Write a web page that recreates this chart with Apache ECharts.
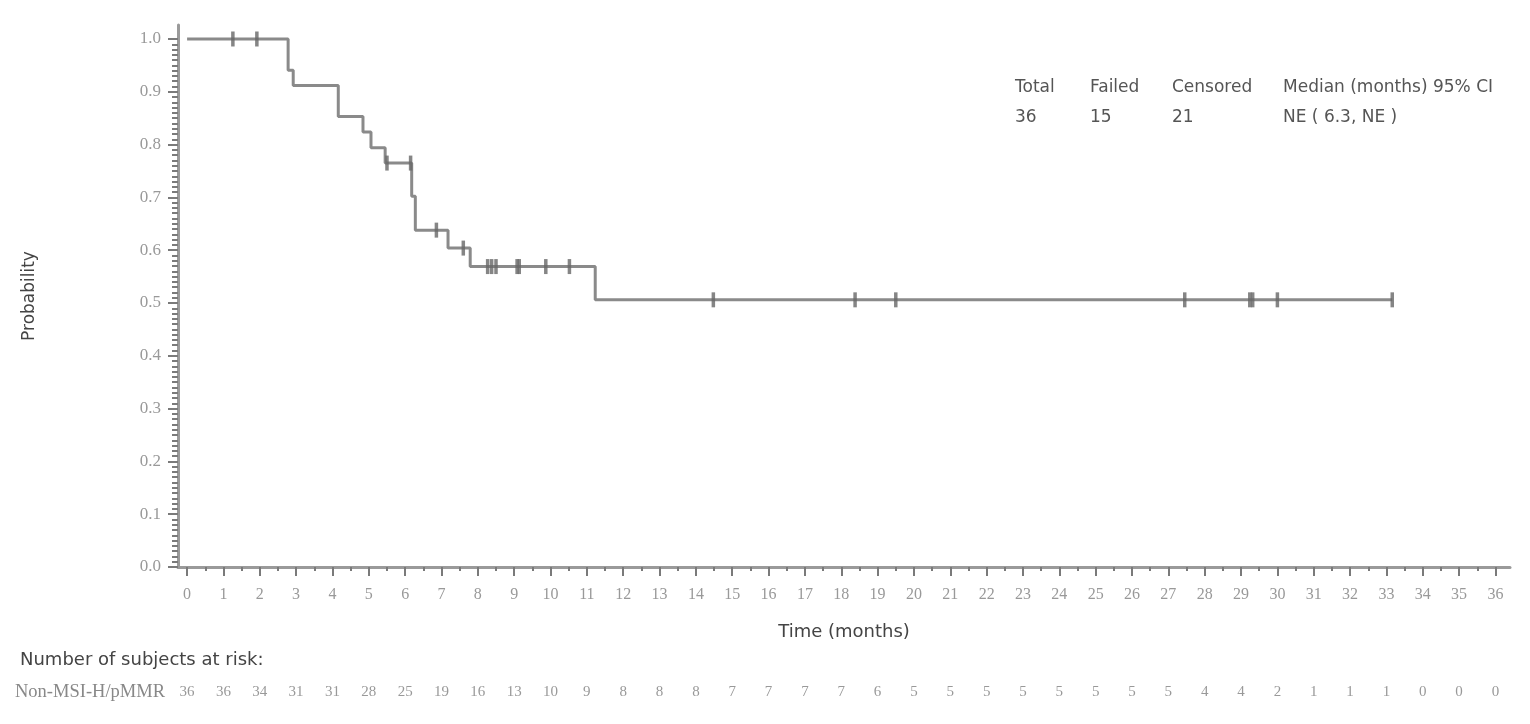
<!DOCTYPE html>
<html>
<head>
<meta charset="utf-8">
<script src="https://cdn.jsdelivr.net/npm/echarts@6/dist/echarts.min.js"></script>
<style>
  html, body { margin: 0; padding: 0; background: #fff; }
  #chart { width: 1530px; height: 724px; }
</style>
</head>
<body>
<div id="chart"></div>
<script>
// Kaplan-Meier step points (time in months, survival probability)
const kmTime = [0, 2.78, 2.92, 4.16, 4.84, 5.06, 5.45, 6.18, 6.28, 7.18, 7.79, 11.23, 33.16];
const kmSurv = [1.0, 0.941, 0.912, 0.853, 0.824, 0.794, 0.765, 0.702, 0.638, 0.604, 0.569, 0.506, 0.506];

// Censored observations
const censorTime = [1.26, 1.92, 5.5, 6.15, 6.86, 7.6, 8.27, 8.38, 8.5, 9.08, 9.14, 9.87, 10.52, 14.48, 18.38, 19.5, 27.45, 29.24, 29.32, 30.0, 33.16];
const censorSurv = [1.0, 1.0, 0.765, 0.765, 0.638, 0.604, 0.569, 0.569, 0.569, 0.569, 0.569, 0.569, 0.569, 0.506, 0.506, 0.506, 0.506, 0.506, 0.506, 0.506, 0.506];

// Axis ticks / labels
const xTicks = [0,1,2,3,4,5,6,7,8,9,10,11,12,13,14,15,16,17,18,19,20,21,22,23,24,25,26,27,28,29,30,31,32,33,34,35,36];
const yTicks = [0.0,0.1,0.2,0.3,0.4,0.5,0.6,0.7,0.8,0.9,1.0];

// Number at risk at each month
const riskLabel = 'Non-MSI-H/pMMR';
const riskCounts = [36,36,34,31,31,28,25,19,16,13,10,9,8,8,8,7,7,7,7,6,5,5,5,5,5,5,5,5,4,4,2,1,1,1,0,0,0];

// Summary table
const statHeaders = ['Total', 'Failed', 'Censored', 'Median (months) 95% CI'];
const statValues = ['36', '15', '21', 'NE ( 6.3, NE )'];

const xMinor = [];
for (let i = 0; i < xTicks.length - 1; i++) xMinor.push(xTicks[i] + 0.5);
const yMinor = [];
for (let i = 0; i <= 100; i++) { if (i % 10 !== 0) yMinor.push(i / 100); }

const sans = 'DejaVu Sans';
const serif = 'Liberation Serif';
const axisGray = '#9a9a9a';
const tickGray = '#7a7a7a';

const chart = echarts.init(document.getElementById('chart'), null, { renderer: 'canvas' });

const statX = [1015, 1090, 1172, 1283];
const graphics = [];
statHeaders.forEach((t, i) => graphics.push({
  type: 'text', left: statX[i], top: 79,
  style: { text: t, font: '17px "' + sans + '"', fill: '#555' }
}));
statValues.forEach((t, i) => graphics.push({
  type: 'text', left: statX[i], top: 109,
  style: { text: t, font: '17px "' + sans + '"', fill: '#555' }
}));
graphics.push({
  type: 'text', x: 30, y: 296, rotation: Math.PI / 2,
  style: { text: 'Probability', font: '17px "' + sans + '"', fill: '#444', align: 'center', verticalAlign: 'middle' }
});
graphics.push({
  type: 'text', left: 20, top: 651,
  style: { text: 'Number of subjects at risk:', font: '18px "' + sans + '"', fill: '#444' }
});
graphics.push({
  type: 'text', left: 15, top: 683,
  style: { text: riskLabel, font: '18.5px "' + serif + '"', fill: '#888' }
});

chart.setOption({
  animation: false,
  backgroundColor: '#ffffff',
  grid: { left: 178, right: 20, top: 25, bottom: 157, containLabel: false },
  xAxis: [
    {
      type: 'value', min: -0.25, max: 36.4, position: 'bottom',
      axisLine: { show: true, onZero: false, lineStyle: { color: axisGray, width: 3 } },
      axisTick: { show: true, customValues: xTicks, length: 9, lineStyle: { color: tickGray, width: 2 } },
      axisLabel: { show: true, customValues: xTicks, margin: 20, color: '#999', fontFamily: serif, fontSize: 16,
                   formatter: v => String(Math.round(v)) },
      splitLine: { show: false },
      name: 'Time (months)', nameLocation: 'middle', nameGap: 56,
      nameTextStyle: { fontFamily: sans, fontSize: 18, color: '#444' }
    },
    {
      type: 'value', min: -0.25, max: 36.4, position: 'bottom',
      axisLine: { show: false, onZero: false },
      axisTick: { show: true, customValues: xMinor, length: 4, lineStyle: { color: tickGray, width: 2 } },
      axisLabel: { show: false },
      splitLine: { show: false }
    },
    {
      type: 'value', min: -0.25, max: 36.4, position: 'bottom', offset: 110,
      axisLine: { show: false, onZero: false },
      axisTick: { show: false },
      axisLabel: { show: true, customValues: xTicks, margin: 8, color: '#999', fontFamily: serif, fontSize: 15,
                   formatter: v => String(riskCounts[Math.round(v)]) },
      splitLine: { show: false }
    }
  ],
  yAxis: [
    {
      type: 'value', min: 0, max: 1.0265, position: 'left',
      axisLine: { show: true, onZero: false, lineStyle: { color: axisGray, width: 3 } },
      axisTick: { show: true, customValues: yTicks, length: 10, lineStyle: { color: tickGray, width: 2 } },
      axisLabel: { show: true, customValues: yTicks, margin: 17, color: '#999', fontFamily: serif, fontSize: 17,
                   formatter: v => v.toFixed(1) },
      splitLine: { show: false }
    },
    {
      type: 'value', min: 0, max: 1.0265, position: 'left',
      axisLine: { show: false, onZero: false },
      axisTick: { show: true, customValues: yMinor, length: 6, lineStyle: { color: tickGray, width: 2 } },
      axisLabel: { show: false },
      splitLine: { show: false }
    }
  ],
  series: [
    {
      type: 'line', step: 'end', showSymbol: false, symbol: 'none',
      xAxisIndex: 0, yAxisIndex: 0,
      data: kmTime.map((t, i) => [t, kmSurv[i]]),
      lineStyle: { color: '#8a8a8a', width: 3 },
      z: 3
    },
    {
      type: 'scatter', symbol: 'rect', symbolSize: [3.5, 15],
      xAxisIndex: 0, yAxisIndex: 0,
      data: censorTime.map((t, i) => [t, censorSurv[i]]),
      itemStyle: { color: '#666' },
      z: 4
    }
  ],
  graphic: graphics
});
</script>
</body>
</html>
